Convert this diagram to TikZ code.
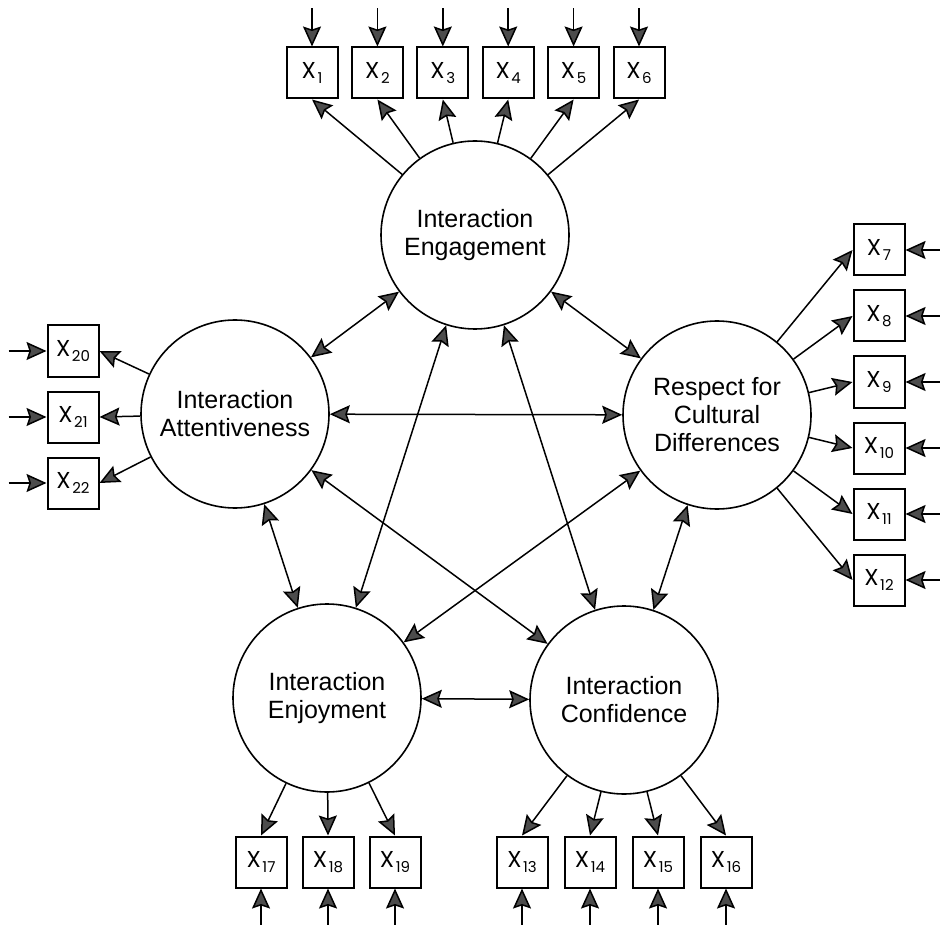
\documentclass[tikz,border=0pt]{standalone}
\usepackage{fontspec}
\setmainfont{Liberation Sans}
\newfontfamily\boxfont{Poppins}
\usetikzlibrary{positioning, arrows.meta}
\newcommand{\xind}[1]{{\boxfont X\kern0.8pt\raisebox{-2.5pt}{\fontsize{7.5}{7.5}\selectfont #1}}}
\tikzset{
->, % every connector is directed
>={Stealth[length=10pt, width=9pt, inset=1.5pt, fill=black!70]}, % grey filled heads
factor/.style={circle, draw, line width=0.8pt, minimum size=94pt, inner sep=0pt, align=center, font=\fontsize{12.5}{14}\selectfont}, % latent variables
indicator/.style={rectangle, draw, line width=1pt, minimum size=25.5pt, inner sep=0pt, font=\fontsize{11.5}{11.5}\selectfont}, % observed items
}

\begin{document}
\begin{tikzpicture}[x=0.5pt, y=-0.5pt, line width=0.75pt]
    \useasboundingbox (0,0) rectangle (940,924);
    % factors
    \node[factor] (eng) at (475,235) {Interaction\\Engagement};
    \node[factor] (att) at (235,414) {Interaction\\Attentiveness};
    \node[factor] (res) at (717,415) {Respect for\\Cultural\\Differences};
    \node[factor] (enj) at (327,698) {Interaction\\Enjoyment};
    \node[factor] (con) at (624,700) {Interaction\\Confidence};

    % items of engagement
    \begin{scope}[node distance=32.7pt]
    \node[indicator] (x1) at (312,73) {\xind{1}};
    \node[indicator, right of=x1] (x2) {\xind{2}};
    \node[indicator, right of=x2] (x3) {\xind{3}};
    \node[indicator, right of=x3] (x4) {\xind{4}};
    \node[indicator, right of=x4] (x5) {\xind{5}};
    \node[indicator, right of=x5] (x6) {\xind{6}};
    \end{scope}
    % items of respect
    \begin{scope}[node distance=33pt]
    \node[indicator] (x7) at (879,250) {\xind{7}};
    \node[indicator, below of=x7] (x8) {\xind{8}};
    \node[indicator, below of=x8] (x9) {\xind{9}};
    \node[indicator, below of=x9] (x10) {\xind{10}};
    \node[indicator, below of=x10] (x11) {\xind{11}};
    \node[indicator, below of=x11] (x12) {\xind{12}};
    % items of attentiveness
    \node[indicator] (x20) at (73,351) {\xind{20}};
    \node[indicator, below of=x20] (x21) {\xind{21}};
    \node[indicator, below of=x21] (x22) {\xind{22}};
    \end{scope}
    % items of confidence
    \begin{scope}[node distance=34pt]
    \node[indicator] (x13) at (522,862) {\xind{13}};
    \node[indicator, right of=x13] (x14) {\xind{14}};
    \node[indicator, right of=x14] (x15) {\xind{15}};
    \node[indicator, right of=x15] (x16) {\xind{16}};
    \end{scope}
    % items of enjoyment
    \begin{scope}[node distance=33.5pt]
    \node[indicator] (x17) at (261,862) {\xind{17}};
    \node[indicator, right of=x17] (x18) {\xind{18}};
    \node[indicator, right of=x18] (x19) {\xind{19}};
    \end{scope}

    % loose ends of the error terms
    \coordinate[above=19pt of x1.north] (e1);
    \coordinate[above=19pt of x2.north] (e2);
    \coordinate[above=19pt of x3.north] (e3);
    \coordinate[above=19pt of x4.north] (e4);
    \coordinate[above=19pt of x5.north] (e5);
    \coordinate[above=19pt of x6.north] (e6);
    \coordinate[right=18pt of x7.east] (e7);
    \coordinate[right=18pt of x8.east] (e8);
    \coordinate[right=18pt of x9.east] (e9);
    \coordinate[right=18pt of x10.east] (e10);
    \coordinate[right=18pt of x11.east] (e11);
    \coordinate[right=18pt of x12.east] (e12);
    \coordinate[below=18.5pt of x13.south] (e13);
    \coordinate[below=18.5pt of x14.south] (e14);
    \coordinate[below=18.5pt of x15.south] (e15);
    \coordinate[below=18.5pt of x16.south] (e16);
    \coordinate[below=18.5pt of x17.south] (e17);
    \coordinate[below=18.5pt of x18.south] (e18);
    \coordinate[below=18.5pt of x19.south] (e19);
    \coordinate[left=19pt of x20.west] (e20);
    \coordinate[left=19pt of x21.west] (e21);
    \coordinate[left=19pt of x22.west] (e22);

    \path (e1) edge (x1) (e2) edge (x2) (e3) edge (x3)
    (e4) edge (x4) (e5) edge (x5) (e6) edge (x6)
    (e7) edge (x7) (e8) edge (x8) (e9) edge (x9)
    (e10) edge (x10) (e11) edge (x11) (e12) edge (x12)
    (e13) edge (x13) (e14) edge (x14) (e15) edge (x15) (e16) edge (x16)
    (e17) edge (x17) (e18) edge (x18) (e19) edge (x19)
    (e20) edge (x20) (e21) edge (x21) (e22) edge (x22);

    % loadings
    \path (eng) edge (x1.south) (eng) edge (x2.south) (eng) edge (x3.south)
    (eng) edge (x4.south) (eng) edge (x5.south) (eng) edge (x6.south)
    (res) edge (x7.west) (res) edge (x8.west) (res) edge (x9.west)
    (res) edge (x10.west) (res) edge (x11.west) (res) edge (x12.west)
    (con) edge (x13.north) (con) edge (x14.north) (con) edge (x15.north) (con) edge (x16.north)
    (enj) edge (x17.north) (enj) edge (x18.north) (enj) edge (x19.north)
    (att) edge (x20.east) (att) edge (x21.east) (att) edge (x22.east);

    % covariances
    \path (eng) edge[<->] (att)
    (eng) edge[<->] (res)
    (att) edge[<->] (res)
    (eng) edge[<->] (enj)
    (eng) edge[<->] (con)
    (att) edge[<->] (enj)
    (att) edge[<->] (con)
    (res) edge[<->] (enj)
    (res) edge[<->] (con)
    (enj) edge[<->] (con);
\end{tikzpicture}
\end{document}
